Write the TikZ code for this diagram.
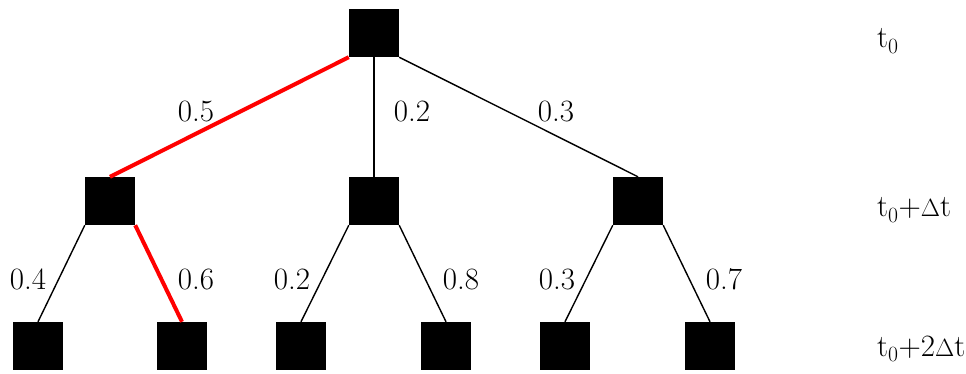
\documentclass[tikz,border=0pt]{standalone}
\usepackage{tikz}
\usetikzlibrary{positioning}

\begin{document}
\begin{tikzpicture}[
    x=1pt, y=-1pt,
    every node/.style={font=\fontsize{31}{35}\selectfont},
    state/.style={rectangle, fill=black, inner sep=0pt, minimum width=50pt, minimum height=48pt},
    edge/.style={line width=1.4pt},
    best/.style={line width=4pt, red},
    prob/.style={anchor=base, inner sep=0pt},
    tlabel/.style={anchor=base west, inner sep=0pt}
]
\useasboundingbox (0,0) rectangle (966,374);
% States
\node[state] (root) at (374,33) {};
\node[state] (a) at (110,201) {};
\node[state] (b) at (374,201) {};
\node[state] (c) at (638,201) {};
\node[state] (a1) at (38,346) {};
\node[state] (a2) at (182,346) {};
\node[state] (b1) at (301,346) {};
\node[state] (b2) at (446,346) {};
\node[state] (c1) at (565,346) {};
\node[state] (c2) at (710,346) {};
% Transitions
\draw[best] (root.south west) -- (a.north);
\draw[edge] (root.south) -- (b.north);
\draw[edge] (root.south east) -- (c.north);
\draw[edge] (a.south west) -- (a1.north);
\draw[best] (a.south east) -- (a2.north);
\draw[edge] (b.south west) -- (b1.north);
\draw[edge] (b.south east) -- (b2.north);
\draw[edge] (c.south west) -- (c1.north);
\draw[edge] (c.south east) -- (c2.north);
% Probabilities
\node[prob] (pa) at (196,122) {0.5};
\node[prob] (pb) at (412,122) {0.2};
\node[prob] (pc) at (556,122) {0.3};
\node[prob] (pa1) at (28,289) {0.4};
\node[prob] (pa2) at (196,289) {0.6};
\node[prob] (pb1) at (292,289) {0.2};
\node[prob] (pb2) at (461,289) {0.8};
\node[prob] (pc1) at (557,289) {0.3};
\node[prob] (pc2) at (724,289) {0.7};
% Time steps
\node[tlabel] (t0) at (877,48) {t\textsubscript{0}};
\node[tlabel] (t1) at (877,217) {t\textsubscript{0}+$\Delta$t};
\node[tlabel] (t2) at (877,356) {t\textsubscript{0}+2$\Delta$t};
\end{tikzpicture}
\end{document}
